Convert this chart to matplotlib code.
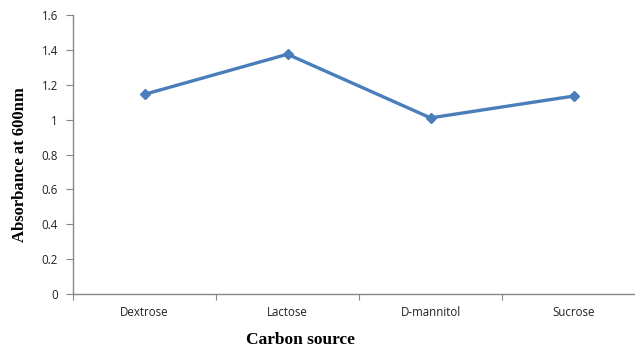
import numpy as np
import matplotlib.pyplot as plt

# growth on different carbon sources
sources = ['Dextrose', 'Lactose', 'D-mannitol', 'Sucrose']
absorbance = [1.145, 1.375, 1.01, 1.135]
yticks = [0, 0.2, 0.4, 0.6, 0.8, 1, 1.2, 1.4, 1.6]

fig = plt.figure(figsize=(6.35, 3.51), dpi=100)
# axes runs slightly past the right edge of the figure
ax = fig.add_axes([73/635, 1 - 294/351, 572/635, 279/351])

x = np.arange(len(sources))
ax.plot(x, absorbance, color='#4A7EBB', lw=2.4, marker='D', ms=5.5,
        markeredgecolor='#4A7EBB', markerfacecolor='#4A7EBB')

ax.set_xlim(-0.5, len(sources) - 0.5)
ax.set_ylim(0, 1.6)
ax.set_yticks(yticks)
ax.set_yticklabels(['0', '0.2', '0.4', '0.6', '0.8', '1', '1.2', '1.4', '1.6'])

# category labels centred, tick marks between categories
ax.set_xticks(np.arange(-0.5, len(sources) + 0.5, 1))
ax.set_xticklabels([])
ax.set_xticks(x, minor=True)
ax.set_xticklabels(sources, minor=True)
ax.tick_params(axis='x', which='minor', length=0, pad=9)
ax.tick_params(axis='x', which='major', length=4, color='#868686', direction='out')
ax.tick_params(axis='y', length=5, color='#868686', direction='out', pad=6)

for lab in ax.get_xticklabels(minor=True) + ax.get_yticklabels():
    lab.set_fontfamily('Open Sans')
    lab.set_fontsize(8.3)
    lab.set_color('#222222')

for side in ['top', 'right']:
    ax.spines[side].set_visible(False)
for side in ['left', 'bottom']:
    ax.spines[side].set_color('#868686')
    ax.spines[side].set_linewidth(1.0)

fig.text(300/635, 1 - 340/351, 'Carbon source', ha='center', va='center',
         fontfamily='Liberation Serif', fontweight='bold', fontsize=12.5)
fig.text(20/635, 1 - 165/351, 'Absorbance at 600nm', ha='center', va='center',
         rotation=90, fontfamily='Liberation Serif', fontweight='bold', fontsize=12)

fig.savefig('out.png', dpi=100)
